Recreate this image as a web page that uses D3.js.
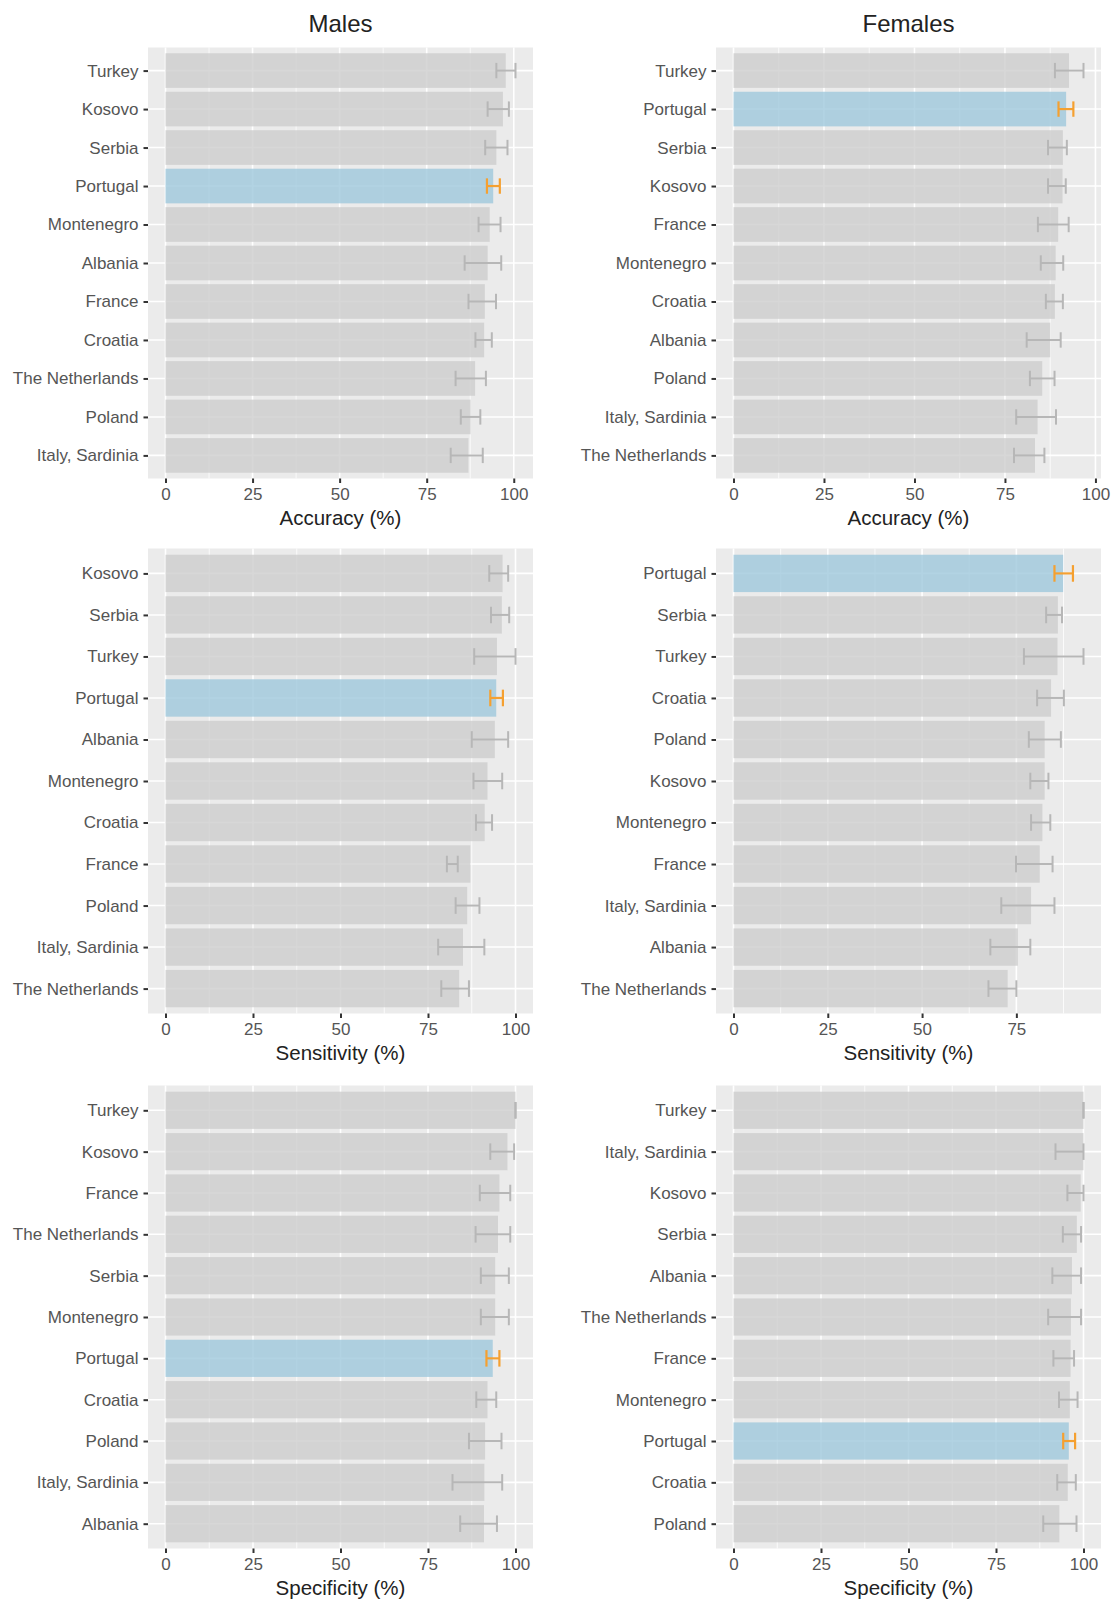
<!DOCTYPE html>
<html>
<head>
<meta charset="utf-8">
<script src="https://cdn.jsdelivr.net/npm/d3@7"></script>
<style>
  html, body { margin: 0; padding: 0; background: #ffffff; }
  svg { display: block; }
  text { font-family: "Liberation Sans", Arial, Helvetica, sans-serif; }
</style>
</head>
<body>
<svg id="chart" width="1114" height="1600"></svg>
<script>
// ---- Data: estimates (%) with 95% interval bounds, countries listed top to bottom ----
const highlightCountry = "Portugal";
const xBreaks = [0, 25, 50, 75, 100];
const columnTitles = ["Males", "Females"];
const metricTitles = ["Accuracy (%)", "Sensitivity (%)", "Specificity (%)"];

// Males — accuracy
const malesAccuracyCountries = ["Turkey", "Kosovo", "Serbia", "Portugal", "Montenegro", "Albania", "France", "Croatia", "The Netherlands", "Poland", "Italy, Sardinia"];
const malesAccuracyValues = [97.7, 96.9, 95.0, 94.1, 93.1, 92.5, 91.7, 91.5, 88.9, 87.6, 87.0];
const malesAccuracyLower  = [95.0, 92.5, 91.8, 92.3, 89.9, 85.9, 87.0, 89.0, 83.3, 84.8, 81.9];
const malesAccuracyUpper  = [100.5, 98.6, 98.2, 96.0, 96.2, 96.4, 94.9, 93.7, 92.0, 90.4, 91.1];

// Females — accuracy
const femalesAccuracyCountries = ["Turkey", "Portugal", "Serbia", "Kosovo", "France", "Montenegro", "Croatia", "Albania", "Poland", "Italy, Sardinia", "The Netherlands"];
const femalesAccuracyValues = [92.7, 91.9, 91.0, 90.9, 89.7, 89.0, 88.8, 87.5, 85.3, 84.0, 83.3];
const femalesAccuracyLower  = [88.8, 89.8, 86.9, 86.9, 84.1, 84.9, 86.3, 81.0, 81.9, 78.1, 77.5];
const femalesAccuracyUpper  = [96.7, 93.9, 92.1, 91.8, 92.6, 91.1, 91.0, 90.4, 88.7, 89.1, 85.9];

// Males — sensitivity
const malesSensitivityCountries = ["Kosovo", "Serbia", "Turkey", "Portugal", "Albania", "Montenegro", "Croatia", "France", "Poland", "Italy, Sardinia", "The Netherlands"];
const malesSensitivityValues = [96.3, 96.1, 94.7, 94.5, 94.1, 92.0, 91.2, 87.1, 86.2, 85.0, 83.9];
const malesSensitivityLower  = [92.5, 93.0, 88.2, 92.8, 87.5, 88.0, 88.7, 80.4, 82.9, 77.9, 78.8];
const malesSensitivityUpper  = [97.9, 98.2, 100.0, 96.4, 97.9, 96.2, 93.3, 83.5, 89.7, 91.1, 86.7];

// Females — sensitivity
const femalesSensitivityCountries = ["Portugal", "Serbia", "Turkey", "Croatia", "Poland", "Kosovo", "Montenegro", "France", "Italy, Sardinia", "Albania", "The Netherlands"];
const femalesSensitivityValues = [87.4, 86.0, 85.9, 84.2, 82.5, 82.5, 81.9, 81.2, 78.9, 75.4, 72.7];
const femalesSensitivityLower  = [85.1, 82.9, 77.0, 80.5, 78.3, 78.7, 78.9, 74.9, 71.0, 68.1, 67.6];
const femalesSensitivityUpper  = [90.0, 87.1, 92.8, 87.6, 86.8, 83.5, 84.0, 84.6, 85.1, 78.7, 75.0];

// Males — specificity
const malesSpecificityCountries = ["Turkey", "Kosovo", "France", "The Netherlands", "Serbia", "Montenegro", "Portugal", "Croatia", "Poland", "Italy, Sardinia", "Albania"];
const malesSpecificityValues = [100.0, 97.7, 95.4, 95.0, 94.2, 94.2, 93.5, 92.0, 91.3, 91.1, 91.0];
const malesSpecificityLower  = [100.0, 92.8, 89.8, 88.6, 90.1, 90.1, 91.7, 88.8, 86.7, 82.0, 84.2];
const malesSpecificityUpper  = [100.0, 99.6, 98.5, 98.5, 98.1, 98.1, 95.4, 94.5, 96.0, 96.2, 94.7];

// Females — specificity
const femalesSpecificityCountries = ["Turkey", "Italy, Sardinia", "Kosovo", "Serbia", "Albania", "The Netherlands", "France", "Montenegro", "Portugal", "Croatia", "Poland"];
const femalesSpecificityValues = [100.0, 100.0, 99.2, 98.1, 96.7, 96.4, 96.3, 96.1, 95.8, 95.5, 93.1];
const femalesSpecificityLower  = [100.0, 92.0, 95.4, 94.1, 91.1, 89.9, 91.4, 93.0, 94.2, 92.5, 88.5];
const femalesSpecificityUpper  = [100.0, 100.0, 100.0, 99.3, 99.3, 99.3, 97.3, 98.3, 97.6, 97.8, 98.0];

// ---- Panel grid: rows are metrics, columns are sexes ----
const panels = [
  { row: 0, col: 0, countries: malesAccuracyCountries, values: malesAccuracyValues, lower: malesAccuracyLower, upper: malesAccuracyUpper },
  { row: 0, col: 1, countries: femalesAccuracyCountries, values: femalesAccuracyValues, lower: femalesAccuracyLower, upper: femalesAccuracyUpper },
  { row: 1, col: 0, countries: malesSensitivityCountries, values: malesSensitivityValues, lower: malesSensitivityLower, upper: malesSensitivityUpper },
  { row: 1, col: 1, countries: femalesSensitivityCountries, values: femalesSensitivityValues, lower: femalesSensitivityLower, upper: femalesSensitivityUpper },
  { row: 2, col: 0, countries: malesSpecificityCountries, values: malesSpecificityValues, lower: malesSpecificityLower, upper: malesSpecificityUpper },
  { row: 2, col: 1, countries: femalesSpecificityCountries, values: femalesSpecificityValues, lower: femalesSpecificityLower, upper: femalesSpecificityUpper }
];

// ---- Layout ----
const colBoxes = [{ x0: 148, x1: 533 }, { x0: 716, x1: 1101 }];
const rowBoxes = [{ y0: 47.5, y1: 478.5 }, { y0: 548.5, y1: 1013.5 }, { y0: 1085.5, y1: 1548.5 }];

const style = {
  panelBg: "#ebebeb",
  grid: "#ffffff",
  barFill: "#cdcdcd",
  barOpacity: 0.8,
  hiFill: "#9fc8dc",
  hiOpacity: 0.8,
  err: "#b7b7b7",
  hiErr: "#f5a030",
  tickText: "#555555",
  tickMark: "#333333",
  title: "#222222"
};

const svg = d3.select("#chart");

// column titles
columnTitles.forEach((t, i) => {
  const c = colBoxes[i];
  svg.append("text")
    .attr("x", (c.x0 + c.x1) / 2)
    .attr("y", 32)
    .attr("text-anchor", "middle")
    .attr("font-size", 24)
    .attr("fill", style.title)
    .text(t);
});

panels.forEach(p => {
  const c = colBoxes[p.col];
  const r = rowBoxes[p.row];
  const rows = p.countries.map((name, i) => ({
    name, value: p.values[i], lower: p.lower[i], upper: p.upper[i]
  }));

  // continuous axis: [0, max upper] widened by 5% on both sides
  const maxUp = d3.max(rows, d => d.upper);
  const pad = maxUp * 0.05;
  const x = d3.scaleLinear().domain([-pad, maxUp + pad]).range([c.x0, c.x1]);

  // discrete axis: 0.6 of a step of space at each end
  const y = d3.scalePoint().domain(p.countries).range([r.y0, r.y1]).padding(0.6);
  const step = y.step();
  const barH = step * 0.9;
  const capH = step * 0.4;

  const g = svg.append("g");

  // panel background
  g.append("rect")
    .attr("x", c.x0).attr("y", r.y0)
    .attr("width", c.x1 - c.x0).attr("height", r.y1 - r.y0)
    .attr("fill", style.panelBg);

  const [d0, d1] = x.domain();
  const majors = xBreaks.filter(v => v >= d0 && v <= d1);
  const minors = xBreaks.slice(0, -1).map((v, i) => (v + xBreaks[i + 1]) / 2).filter(v => v >= d0 && v <= d1);

  // minor vertical grid
  g.selectAll(".minor").data(minors).enter().append("line")
    .attr("x1", d => x(d)).attr("x2", d => x(d))
    .attr("y1", r.y0).attr("y2", r.y1)
    .attr("stroke", style.grid).attr("stroke-width", 0.8);

  // major vertical grid
  g.selectAll(".major").data(majors).enter().append("line")
    .attr("x1", d => x(d)).attr("x2", d => x(d))
    .attr("y1", r.y0).attr("y2", r.y1)
    .attr("stroke", style.grid).attr("stroke-width", 1.6);

  // horizontal grid at each country
  g.selectAll(".hgrid").data(p.countries).enter().append("line")
    .attr("x1", c.x0).attr("x2", c.x1)
    .attr("y1", d => y(d)).attr("y2", d => y(d))
    .attr("stroke", style.grid).attr("stroke-width", 1.6);

  // bars
  g.selectAll(".bar").data(rows).enter().append("rect")
    .attr("x", x(0))
    .attr("y", d => y(d.name) - barH / 2)
    .attr("width", d => x(d.value) - x(0))
    .attr("height", barH)
    .attr("fill", d => d.name === highlightCountry ? style.hiFill : style.barFill)
    .attr("fill-opacity", d => d.name === highlightCountry ? style.hiOpacity : style.barOpacity);

  // error bars
  const eb = g.selectAll(".err").data(rows).enter().append("g")
    .attr("stroke", d => d.name === highlightCountry ? style.hiErr : style.err)
    .attr("stroke-width", d => d.name === highlightCountry ? 2.2 : 2)
    .attr("fill", "none");
  eb.append("line")
    .attr("x1", d => x(d.lower)).attr("x2", d => x(d.upper))
    .attr("y1", d => y(d.name)).attr("y2", d => y(d.name));
  eb.append("line")
    .attr("x1", d => x(d.lower)).attr("x2", d => x(d.lower))
    .attr("y1", d => y(d.name) - capH / 2).attr("y2", d => y(d.name) + capH / 2);
  eb.append("line")
    .attr("x1", d => x(d.upper)).attr("x2", d => x(d.upper))
    .attr("y1", d => y(d.name) - capH / 2).attr("y2", d => y(d.name) + capH / 2);

  // y axis (country names)
  const yAxis = d3.axisLeft(y).tickSize(4.5).tickPadding(5);
  const ya = svg.append("g").attr("transform", `translate(${c.x0},0)`).call(yAxis);
  ya.select(".domain").remove();
  ya.selectAll(".tick line").attr("stroke", style.tickMark).attr("stroke-width", 2);
  ya.selectAll(".tick text")
    .attr("font-size", 17)
    .attr("fill", style.tickText)
    .attr("font-family", "Liberation Sans, Arial, sans-serif");

  // x axis
  const xAxis = d3.axisBottom(x).tickValues(majors).tickFormat(d3.format("d")).tickSize(4.5).tickPadding(5);
  const xa = svg.append("g").attr("transform", `translate(0,${r.y1})`).call(xAxis);
  xa.select(".domain").remove();
  xa.selectAll(".tick line").attr("stroke", style.tickMark).attr("stroke-width", 2);
  xa.selectAll(".tick text")
    .attr("font-size", 17)
    .attr("fill", style.tickText)
    .attr("font-family", "Liberation Sans, Arial, sans-serif");

  // x axis title
  svg.append("text")
    .attr("x", (c.x0 + c.x1) / 2)
    .attr("y", r.y1 + 46)
    .attr("text-anchor", "middle")
    .attr("font-size", 20.5)
    .attr("fill", style.title)
    .text(metricTitles[p.row]);
});
</script>
</body>
</html>
